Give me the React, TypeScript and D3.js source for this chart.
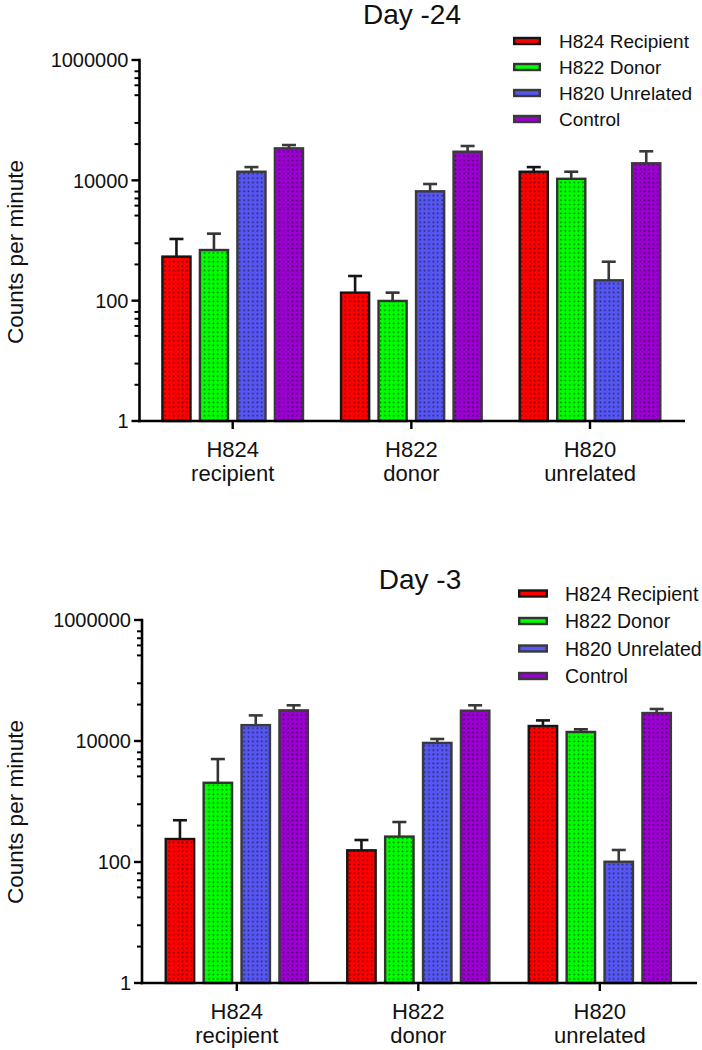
import React from "react";
import * as d3 from "d3";

// ---------- data ----------
const CATEGORY_LINE1 = ["H824", "H822", "H820"];
const CATEGORY_LINE2 = ["recipient", "donor", "unrelated"];
const SERIES = ["H824 Recipient", "H822 Donor", "H820 Unrelated", "Control"];
const SERIES_COLORS = ["#ff0000", "#00ff00", "#5656f2", "#9c00d2"];
const SERIES_STROKES = ["#151515", "#333333", "#3a3a3a", "#3a3a3a"];

// Day -24 (values per series, across categories)
const D24_RECIPIENT = [540, 136, 13900];
const D24_RECIPIENT_ERR = [1060, 257, 16600];
const D24_DONOR = [695, 99, 10600];
const D24_DONOR_ERR = [1300, 136, 13900];
const D24_UNRELATED = [13900, 6570, 218];
const D24_UNRELATED_ERR = [16600, 8690, 444];
const D24_CONTROL = [34000, 29900, 19200];
const D24_CONTROL_ERR = [38600, 37200, 30400];

// Day -3
const D3_RECIPIENT = [240, 156, 17700];
const D3_RECIPIENT_ERR = [490, 231, 21900];
const D3_DONOR = [2040, 263, 14100];
const D3_DONOR_ERR = [5030, 458, 15600];
const D3_UNRELATED = [18300, 9300, 101];
const D3_UNRELATED_ERR = [26500, 10800, 158];
const D3_CONTROL = [32100, 31700, 29000];
const D3_CONTROL_ERR = [38900, 38900, 33800];

const Y_TICKS = [1, 100, 10000, 1000000];
const Y_TICK_LABELS = ["1", "100", "10000", "1000000"];
const Y_MINOR_TICKS = [
  650000, 500000, 380000, 260000, 90000, 40000,
  6500, 5000, 3800, 2600, 900, 400,
  65, 50, 38, 26, 9, 4,
];

const FONT = "'Liberation Sans', Arial, Helvetica, sans-serif";

type Layout = {
  yTop: number; yBottom: number; axisX: number; axisEnd: number;
  groupC0: number; groupStep: number; pitch: number;
  titleX: number; titleY: number;
  legendX: number; legendY0: number; legendDy: number; legendSwW: number;
  legendTextX: number; legendFont: number;
  yLabelY: number; xLabelY1: number;
};

function Panel({ id, title, means, errs, L }: { id: string; title: string; means: number[][]; errs: number[][]; L: Layout }) {
  const y = d3.scaleLog().domain([1, 1000000]).range([L.yBottom, L.yTop]);
  const r0 = L.groupC0 - L.groupStep / 2;
  const r1 = r0 + L.groupStep * CATEGORY_LINE1.length;
  const p = 1 - (4 * L.pitch) / L.groupStep;
  const x0 = d3.scaleBand<string>().domain(CATEGORY_LINE1).range([r0, r1]).paddingInner(p).paddingOuter(p / 2);
  const x1 = d3.scaleBand<string>().domain(SERIES).range([0, x0.bandwidth()]).paddingInner(0.25).paddingOuter(0.125);
  const bw = x1.bandwidth();
  const capW = 14;

  return (
    <g>
      <text x={L.titleX} y={L.titleY} textAnchor="middle" fontSize={28} fontFamily={FONT} fill="#111">{title}</text>

      {/* bars */}
      {SERIES.map((s, si) =>
        CATEGORY_LINE1.map((c, ci) => {
          const bx = (x0(c) as number) + (x1(s) as number);
          const top = y(means[si][ci]);
          const et = y(errs[si][ci]);
          const cx = bx + bw / 2;
          return (
            <g key={s + c}>
              <line x1={cx} x2={cx} y1={top} y2={et} stroke={SERIES_STROKES[si]} strokeWidth={2.6} />
              <line x1={cx - capW / 2} x2={cx + capW / 2} y1={et} y2={et} stroke={SERIES_STROKES[si]} strokeWidth={2.6} />
              <rect x={bx} y={top} width={bw} height={L.yBottom - top} fill={SERIES_COLORS[si]} />
              <rect x={bx} y={top} width={bw} height={L.yBottom - top} fill={`url(#dots-${id})`} />
              <rect x={bx} y={top} width={bw} height={L.yBottom - top} fill="none" stroke={SERIES_STROKES[si]} strokeWidth={2.4} />
            </g>
          );
        })
      )}

      {/* y axis */}
      <line x1={L.axisX} x2={L.axisX} y1={L.yBottom + 1.2} y2={L.yTop - 1.2} stroke="#000" strokeWidth={2.6} />
      {Y_TICKS.map((t, i) => (
        <g key={t}>
          <line x1={L.axisX - 8} x2={L.axisX} y1={y(t)} y2={y(t)} stroke="#000" strokeWidth={2.4} />
          <text x={L.axisX - 11} y={y(t)} dy="0.36em" textAnchor="end" fontSize={20} fontFamily={FONT} fill="#111">{Y_TICK_LABELS[i]}</text>
        </g>
      ))}
      {Y_MINOR_TICKS.map((t) => (
        <line key={t} x1={L.axisX - 5} x2={L.axisX} y1={y(t)} y2={y(t)} stroke="#000" strokeWidth={2} />
      ))}
      <text transform={`translate(23,${L.yLabelY}) rotate(-90)`} textAnchor="middle" fontSize={22.5} fontFamily={FONT} fill="#111">Counts per minute</text>

      {/* x axis */}
      <line x1={L.axisX - 1.3} x2={L.axisEnd} y1={L.yBottom} y2={L.yBottom} stroke="#000" strokeWidth={2.6} />
      {CATEGORY_LINE1.map((c, ci) => {
        const cx = (x0(c) as number) + x0.bandwidth() / 2;
        return (
          <g key={c}>
            <line x1={cx} x2={cx} y1={L.yBottom} y2={L.yBottom + 8} stroke="#000" strokeWidth={2.4} />
            <text x={cx} y={L.xLabelY1} textAnchor="middle" fontSize={22} fontFamily={FONT} fill="#111">{c}</text>
            <text x={cx} y={L.xLabelY1 + 24} textAnchor="middle" fontSize={22} fontFamily={FONT} fill="#111">{CATEGORY_LINE2[ci]}</text>
          </g>
        );
      })}

      {/* legend */}
      {SERIES.map((s, si) => {
        const ly = L.legendY0 + si * L.legendDy;
        return (
          <g key={s}>
            <rect x={L.legendX + 1.2} y={ly - 3} width={L.legendSwW - 2.4} height={6} fill={SERIES_COLORS[si]} stroke={SERIES_STROKES[si]} strokeWidth={2.4} />
            <text x={L.legendTextX} y={ly} dy="0.36em" fontSize={L.legendFont} fontFamily={FONT} fill="#111">{s}</text>
          </g>
        );
      })}
    </g>
  );
}

const TOP: Layout = {
  yTop: 60, yBottom: 421, axisX: 139.5, axisEnd: 685,
  groupC0: 232.7, groupStep: 178.65, pitch: 37.5,
  titleX: 412, titleY: 23.5,
  legendX: 513, legendY0: 41, legendDy: 26, legendSwW: 28, legendTextX: 559, legendFont: 19,
  yLabelY: 252, xLabelY1: 457,
};
const BOTTOM: Layout = {
  yTop: 620, yBottom: 983, axisX: 142, axisEnd: 697,
  groupC0: 236.8, groupStep: 181.5, pitch: 37.9,
  titleX: 420, titleY: 589,
  legendX: 518, legendY0: 593.5, legendDy: 27.5, legendSwW: 30, legendTextX: 565, legendFont: 19.5,
  yLabelY: 812, xLabelY1: 1019,
};

export default function App() {
  return (
    <svg width={702} height={1050} style={{ position: "absolute", left: 0, top: 0, background: "#fff" }}>
      <defs>
        {["a", "b"].map((id) => (
          <pattern key={id} id={`dots-${id}`} width={4.4} height={4.4} patternUnits="userSpaceOnUse">
            <rect x={1.4} y={1.4} width={1.5} height={1.5} fill="#000" fillOpacity={0.62} />
          </pattern>
        ))}
      </defs>
      <Panel
        id="a"
        title="Day -24"
        means={[D24_RECIPIENT, D24_DONOR, D24_UNRELATED, D24_CONTROL]}
        errs={[D24_RECIPIENT_ERR, D24_DONOR_ERR, D24_UNRELATED_ERR, D24_CONTROL_ERR]}
        L={TOP}
      />
      <Panel
        id="b"
        title="Day -3"
        means={[D3_RECIPIENT, D3_DONOR, D3_UNRELATED, D3_CONTROL]}
        errs={[D3_RECIPIENT_ERR, D3_DONOR_ERR, D3_UNRELATED_ERR, D3_CONTROL_ERR]}
        L={BOTTOM}
      />
    </svg>
  );
}
